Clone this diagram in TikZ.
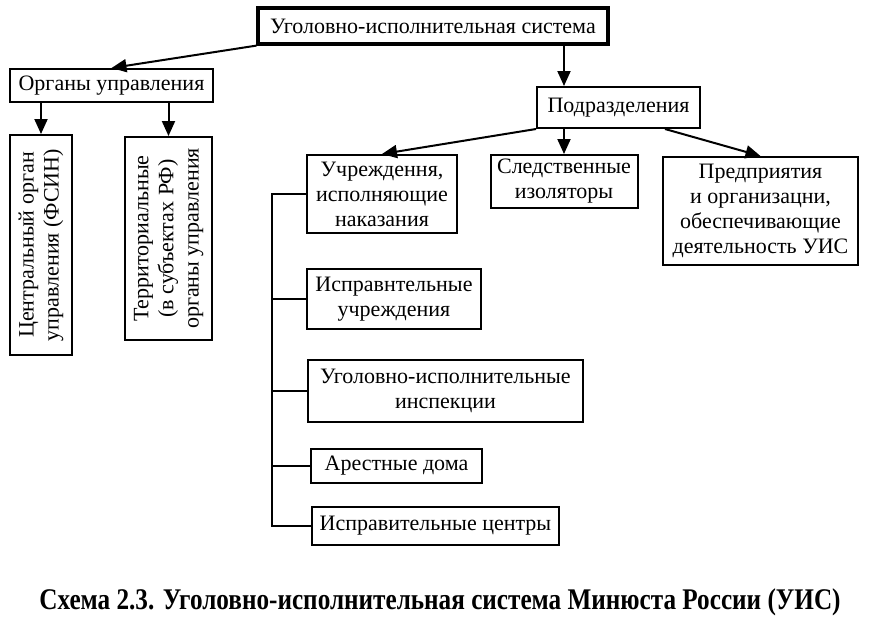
\documentclass[tikz,border=0pt]{standalone}
\usepackage{fontspec}
\setmainfont{Liberation Serif}
\newfontfamily\capfont[FakeStretch=0.84]{Liberation Serif}
\usetikzlibrary{arrows.meta}

\begin{document}
\begin{tikzpicture}
        [x=0.5pt, y=-0.5pt,
        box/.style={draw, line width=1pt, align=center, inner sep=2pt, font=\fontsize{11}{12.5}\selectfont},
        arr/.style={line width=1pt, -{Triangle[length=7.5pt,width=6.5pt]}},
        link/.style={line width=1pt},
        ]
        \useasboundingbox (0,0) rectangle (874,634);
        % top level
        \node[box, line width=1.6pt, minimum width=175pt, minimum height=18pt] (uis) at (433,26) {Уголовно-исполнительная система};
        \node[box, minimum width=101.5pt, minimum height=16.5pt] (org) at (111.5,85.5) {Органы управления};
        \node[box, minimum width=81.5pt, minimum height=20.5pt] (podr) at (618.5,107.5) {Подразделения};
        % management
        \node[box, minimum width=31pt, minimum height=110pt] (center) at (41,245)
          {\rotatebox{90}{\begin{tabular}{@{}c@{}}Центральный орган\\управления (ФСИН)\end{tabular}}};
        \node[box, minimum width=43.5pt, minimum height=101.5pt] (terr) at (168.5,238.5)
          {\rotatebox{90}{\begin{tabular}{@{}c@{}}Территориальные\\(в субъектах РФ)\\органы управления\end{tabular}}};
        % divisions
        \node[box, minimum width=75pt, minimum height=39pt] (uchr) at (382,194) {Учреждення,\\исполняющие\\наказания};
        \node[box, minimum width=73.5pt, minimum height=26.5pt] (sizo) at (564,181.5) {Следственные\\изоляторы};
        \node[box, minimum width=97.5pt, minimum height=54pt] (pred) at (760.5,211) {Предприятия\\и организацни,\\обеспечивающие\\деятельность УИС};
        % institutions
        \node[box, minimum width=87pt, minimum height=30pt] (ispr) at (394,299) {Исправнтельные\\учреждения};
        \node[box, minimum width=137.5pt, minimum height=31pt] (uii) at (445.5,391) {Уголовно-исполнительные\\инспекции};
        \node[box, minimum width=85.5pt, minimum height=17pt] (arest) at (396.5,466) {Арестные дома};
        \node[box, minimum width=123.5pt, minimum height=19pt] (centr) at (435.5,526) {Исправительные центры};
        \coordinate (trunk) at (272,194);
        % arrows
        \draw[arr] (uis.south west) -- (org.north);
        \draw[arr] (org.south -| center.north) -- (center.north);
        \draw[arr] (org.south -| terr.north) -- (terr.north);
        \draw[arr] (uis.south -| sizo.north) -- (podr.north -| sizo.north);
        \draw[arr] (podr.south west) -- (uchr.north);
        \draw[arr] (podr.south -| sizo.north) -- (sizo.north);
        \draw[arr] ([xshift=-18pt]podr.south east) -- (pred.north);
        \draw[link] (uchr.west) -- (trunk) |- (centr.west);
        \foreach \n in {ispr,uii,arest}
          \draw[link] (\n.west) -- (\n.west -| trunk);
        % caption
        \node (caption) at (440,602) {\capfont\bfseries\fontsize{15}{17}\selectfont Схема 2.3. Уголовно-исполнительная система Минюста России (УИС)};
\end{tikzpicture}
\end{document}
